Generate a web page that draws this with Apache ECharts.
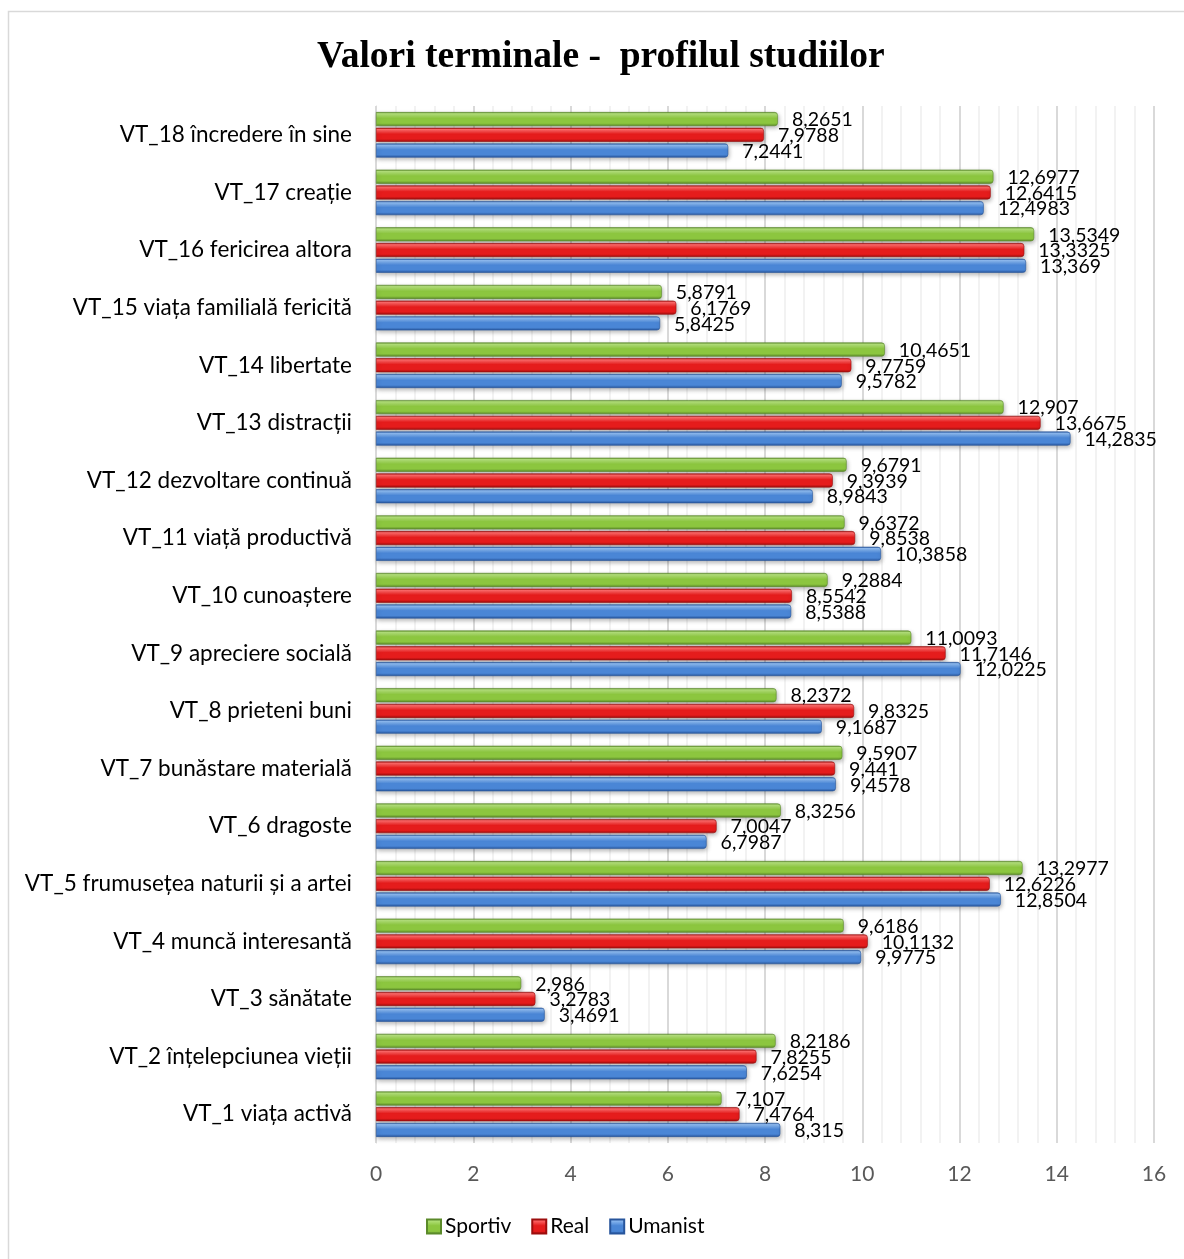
<!DOCTYPE html>
<html>
<head>
<meta charset="utf-8">
<script src="https://cdn.jsdelivr.net/npm/echarts@6/dist/echarts.min.js"></script>
<style>
  html, body { margin: 0; padding: 0; background: #ffffff; }
  #chart { width: 1184px; height: 1259px; }
</style>
</head>
<body>
<div id="chart"></div>
<script>
// Terminal values by study profile, listed bottom-to-top (VT_1 first)
const categories = [
  'VT_1 viața activă',
  'VT_2 înțelepciunea vieții',
  'VT_3 sănătate',
  'VT_4 muncă interesantă',
  'VT_5 frumusețea naturii și a artei',
  'VT_6 dragoste',
  'VT_7 bunăstare materială',
  'VT_8 prieteni buni',
  'VT_9 apreciere socială',
  'VT_10 cunoaștere',
  'VT_11 viață productivă',
  'VT_12 dezvoltare continuă',
  'VT_13 distracții',
  'VT_14 libertate',
  'VT_15 viața familială fericită',
  'VT_16 fericirea altora',
  'VT_17 creație',
  'VT_18 încredere în sine'
];

const sportiv = [7.107, 8.2186, 2.986, 9.6186, 13.2977, 8.3256, 9.5907, 8.2372, 11.0093,
  9.2884, 9.6372, 9.6791, 12.907, 10.4651, 5.8791, 13.5349, 12.6977, 8.2651];
const real = [7.4764, 7.8255, 3.2783, 10.1132, 12.6226, 7.0047, 9.441, 9.8325, 11.7146,
  8.5542, 9.8538, 9.3939, 13.6675, 9.7759, 6.1769, 13.3325, 12.6415, 7.9788];
const umanist = [8.315, 7.6254, 3.4691, 9.9775, 12.8504, 6.7987, 9.4578, 9.1687, 12.0225,
  8.5388, 10.3858, 8.9843, 14.2835, 9.5782, 5.8425, 13.369, 12.4983, 7.2441];

const xTicks = { min: 0, max: 16, interval: 2 };

// Cylinder-like shading for each bar colour
function barGradient(light, mid, dark) {
  return new echarts.graphic.LinearGradient(0, 0, 0, 1, [
    { offset: 0, color: dark },
    { offset: 0.12, color: light },
    { offset: 0.45, color: mid },
    { offset: 0.8, color: mid },
    { offset: 1, color: dark }
  ]);
}

const palette = {
  Sportiv: ['#b4e27c', '#8cc63f', '#5b8a2a'],
  Real: ['#ff6a6a', '#e51c1c', '#9c0d0d'],
  Umanist: ['#8fbcf2', '#4a86d6', '#27559c']
};

function fmt(v) {
  return String(v).replace('.', ',');
}

function makeSeries(name, values) {
  const c = palette[name];
  return {
    name: name,
    type: 'bar',
    data: values,
    barGap: '12%',
    barCategoryGap: '21%',
    itemStyle: {
      color: barGradient(c[0], c[1], c[2]),
      borderColor: c[2],
      borderWidth: 0.6,
      borderRadius: [0, 3, 3, 0],
      shadowColor: 'rgba(0,0,0,0.28)',
      shadowBlur: 4,
      shadowOffsetX: 1,
      shadowOffsetY: 2
    },
    label: {
      show: true,
      position: 'right',
      distance: 14,
      color: '#000000',
      fontFamily: 'Lato',
      fontSize: 19.5,
      offset: [0, 1],
      formatter: p => fmt(p.value)
    },
    emphasis: { disabled: true }
  };
}

const chart = echarts.init(document.getElementById('chart'), null, { renderer: 'canvas' });

chart.setOption({
  backgroundColor: '#ffffff',
  animation: false,
  title: {
    text: 'Valori terminale -  profilul studiilor',
    left: 312,
    top: 33,
    textStyle: {
      fontFamily: 'Liberation Serif',
      fontWeight: 'bold',
      fontSize: 37.5,
      color: '#000000'
    }
  },
  legend: {
    data: ['Sportiv', 'Real', 'Umanist'],
    bottom: 17,
    left: 421,
    itemWidth: 14,
    itemHeight: 14,
    itemGap: 20,
    icon: 'rect',
    textStyle: { fontFamily: 'Lato', fontSize: 21, color: '#000000', padding: [0, 0, 0, -1] }
  },
  grid: {
    left: 376,
    right: 30,
    top: 106,
    bottom: 116,
    containLabel: false
  },
  xAxis: {
    type: 'value',
    min: xTicks.min,
    max: xTicks.max,
    interval: xTicks.interval,
    axisLine: { show: false },
    axisTick: { show: false },
    axisLabel: {
      color: '#595959',
      fontFamily: 'Lato',
      fontSize: 21,
      margin: 21
    },
    splitLine: { show: true, lineStyle: { color: '#d9d9d9', width: 2 } },
    minorTick: { show: false, splitNumber: 5 },
    minorSplitLine: { show: true, lineStyle: { color: '#eeeeee', width: 1.5 } }
  },
  yAxis: {
    type: 'category',
    data: categories,
    axisLine: { show: true, lineStyle: { color: '#d9d9d9', width: 1 } },
    axisTick: { show: false },
    axisLabel: {
      color: '#000000',
      fontFamily: 'Lato',
      fontSize: 22.5,
      margin: 24
    }
  },
  graphic: [
    {
      type: 'rect',
      left: 6,
      top: 9,
      shape: { width: 1190, height: 1260 },
      style: { fill: 'none', stroke: '#d9d9d9', lineWidth: 1.5 },
      silent: true,
      z: -1
    }
  ],
  series: [
    makeSeries('Sportiv', sportiv),
    makeSeries('Real', real),
    makeSeries('Umanist', umanist)
  ]
});
</script>
</body>
</html>
